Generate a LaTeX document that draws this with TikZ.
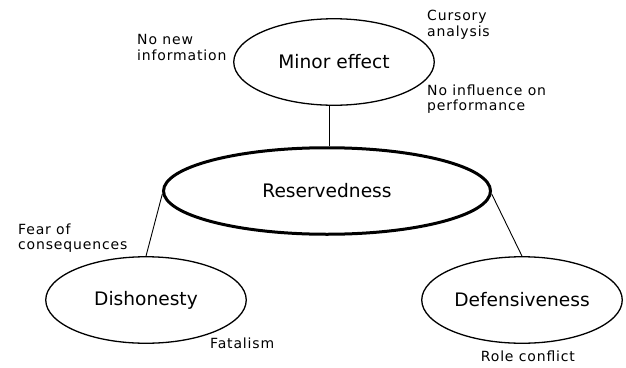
\documentclass[tikz,border=0pt]{standalone}
\usepackage{fontspec}
\setmainfont{DejaVu Sans}
\newfontfamily\lblfont[LetterSpace=6]{DejaVu Sans}
\usetikzlibrary{shapes.geometric}
\begin{document}
\begin{tikzpicture}[x=1pt,y=-1pt,
  bub/.style={ellipse, draw, line width=1.3pt, inner sep=0pt,
    minimum width=200.5pt, minimum height=86.5pt,
    font=\fontsize{18.6}{22}\selectfont},
  lbl/.style={inner sep=0pt, anchor=base west,
    font=\lblfont\fontsize{14}{15.5}\selectfont},
  link/.style={line width=0.9pt}]
\useasboundingbox (0,0) rectangle (626,367);
\node[bub] (minor) at (334,62) {Minor effect};
\node[bub, line width=3pt, minimum width=327pt, minimum height=86.5pt] (res) at (327,191) {Reservedness};
\node[bub] (dis) at (146,300) {Dishonesty};
\node[bub] (def) at (522,300) {Defensiveness};
\draw[link] (minor.-96.5) -- (minor.-96.5 |- res.north);
\draw[link] (res.181.5) -- (dis.north);
\draw[link] (res.-1.5) -- (def.north);
\node[lbl] (nonew) at (137,44.5) {\begin{tabular}[t]{@{}l@{}}No new\\information\end{tabular}};
\node[lbl] (cursory) at (427,20.7) {\begin{tabular}[t]{@{}l@{}}Cursory\\analysis\end{tabular}};
\node[lbl] (noinfl) at (427,95) {\begin{tabular}[t]{@{}l@{}}No influence on\\performance\end{tabular}};
\node[lbl] (fear) at (18,234) {\begin{tabular}[t]{@{}l@{}}Fear of\\consequences\end{tabular}};
\node[lbl] (fatal) at (210,348.7) {Fatalism};
\node[lbl] (role) at (480.7,361.7) {Role conflict};
\end{tikzpicture}
\end{document}
